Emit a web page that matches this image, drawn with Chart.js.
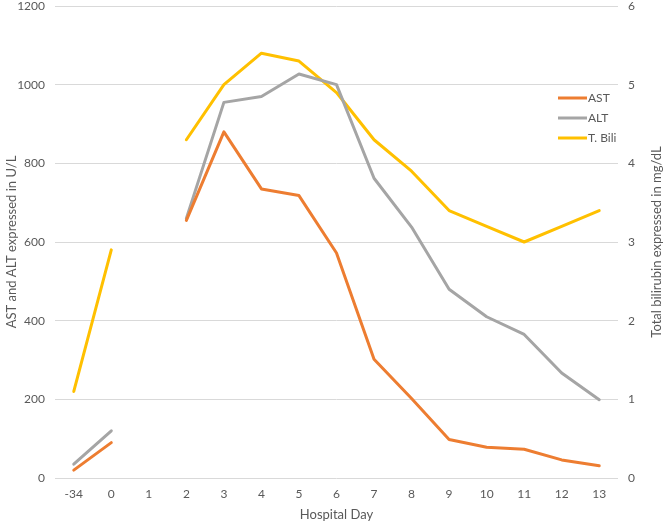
<!DOCTYPE html>
<html>
<head>
<meta charset="utf-8">
<script src="https://cdn.jsdelivr.net/npm/chart.js@4"></script>
<style>
  html, body { margin: 0; padding: 0; background: #fff; }
  #wrap { width: 666px; height: 525px; }
</style>
</head>
<body>
<div id="wrap"><canvas id="c" width="666" height="525"></canvas></div>
<script>
const categories = ["-34", "0", "1", "2", "3", "4", "5", "6", "7", "8", "9", "10", "11", "12", "13"];
const astValues  = [20, 90, null, 655, 880, 735, 718, 572, 302, 202, 98, 78, 73, 46, 31];
const altValues  = [35, 120, null, 660, 955, 970, 1027, 1000, 762, 638, 480, 410, 365, 267, 199];
const biliValues = [1.1, 2.9, null, 4.3, 5.0, 5.4, 5.3, 4.9, 4.3, 3.9, 3.4, 3.2, 3.0, 3.2, 3.4];
const seriesLabels = ["AST", "ALT", "T. Bili"];
const seriesColors = ["#ED7D31", "#A5A5A5", "#FFC000"];
const leftTicks = [0, 200, 400, 600, 800, 1000, 1200];
const rightTicks = [0, 1, 2, 3, 4, 5, 6];
const leftTitle = 'AST and ALT expressed in U/L';
const rightTitle = 'Total bilirubin expressed in mg/dL';

const FONT = "Lato, 'Open Sans', sans-serif";
const TXT = "#595959";

const extrasPlugin = {
  id: 'extras',
  afterDraw(chart) {
    const ctx = chart.ctx;
    const ca = chart.chartArea;
    ctx.save();
    ctx.font = "12px " + FONT;
    ctx.textBaseline = 'middle';
    chart.data.datasets.forEach((ds, i) => {
      const y = ca.top + 92 + i * 20;
      const x = ca.right - 60;
      ctx.strokeStyle = ds.borderColor;
      ctx.lineWidth = 3;
      ctx.beginPath();
      ctx.moveTo(x, y);
      ctx.lineTo(x + 29, y);
      ctx.stroke();
      ctx.fillStyle = TXT;
      ctx.textAlign = 'left';
      ctx.fillText(ds.label, x + 30, y);
    });
    // right axis title, reading bottom-to-top
    ctx.translate(657, (ca.top + ca.bottom) / 2);
    ctx.rotate(-Math.PI / 2);
    ctx.textAlign = 'center';
    ctx.font = "13px " + FONT;
    ctx.fillStyle = TXT;
    ctx.fillText(rightTitle, 0, 0);
    ctx.restore();
  }
};

new Chart(document.getElementById('c'), {
  type: 'line',
  data: {
    labels: categories,
    datasets: [
      { label: seriesLabels[0], data: astValues, yAxisID: 'y', borderColor: seriesColors[0], backgroundColor: seriesColors[0] },
      { label: seriesLabels[1], data: altValues, yAxisID: 'y', borderColor: seriesColors[1], backgroundColor: seriesColors[1] },
      { label: seriesLabels[2], data: biliValues, yAxisID: 'y2', borderColor: seriesColors[2], backgroundColor: seriesColors[2] }
    ]
  },
  options: {
    responsive: false,
    animation: false,
    spanGaps: false,
    layout: { padding: 0 },
    elements: {
      line: { borderWidth: 3, tension: 0, borderCapStyle: 'round', borderJoinStyle: 'round' },
      point: { radius: 0, hoverRadius: 0 }
    },
    plugins: {
      legend: { display: false },
      tooltip: { enabled: false }
    },
    scales: {
      x: {
        offset: true,
        grid: { display: false, drawTicks: false },
        border: { display: false },
        ticks: { color: TXT, font: { family: FONT, size: 12 }, padding: 9, maxRotation: 0 },
        title: { display: true, text: 'Hospital Day', color: TXT, font: { family: FONT, size: 13 }, padding: { top: 0, bottom: 2 } },
        afterFit(s) { s.height = 47; s.paddingLeft = 0; s.paddingRight = 0; }
      },
      y: {
        position: 'left',
        min: 0, max: 1200,
        afterBuildTicks(s) { s.ticks = leftTicks.map(v => ({ value: v })); },
        grid: { color: '#D9D9D9', lineWidth: 1, drawTicks: false },
        border: { display: false },
        ticks: { color: TXT, font: { family: FONT, size: 12 }, padding: 10, callback: v => String(v) },
        title: { display: true, text: leftTitle, color: TXT, font: { family: FONT, size: 13 }, padding: { top: 4, bottom: 0 } },
        afterFit(s) { s.width = 55; s.paddingTop = 6; s.paddingBottom = 0; }
      },
      y2: {
        position: 'right',
        min: 0, max: 6,
        afterBuildTicks(s) { s.ticks = rightTicks.map(v => ({ value: v })); },
        grid: { display: false, drawTicks: false },
        border: { display: false },
        ticks: { color: TXT, font: { family: FONT, size: 12 }, padding: 10, callback: v => String(v) },
        title: { display: false },
        afterFit(s) { s.width = 48; s.paddingTop = 6; s.paddingBottom = 0; }
      }
    }
  },
  plugins: [extrasPlugin]
});
</script>
</body>
</html>
